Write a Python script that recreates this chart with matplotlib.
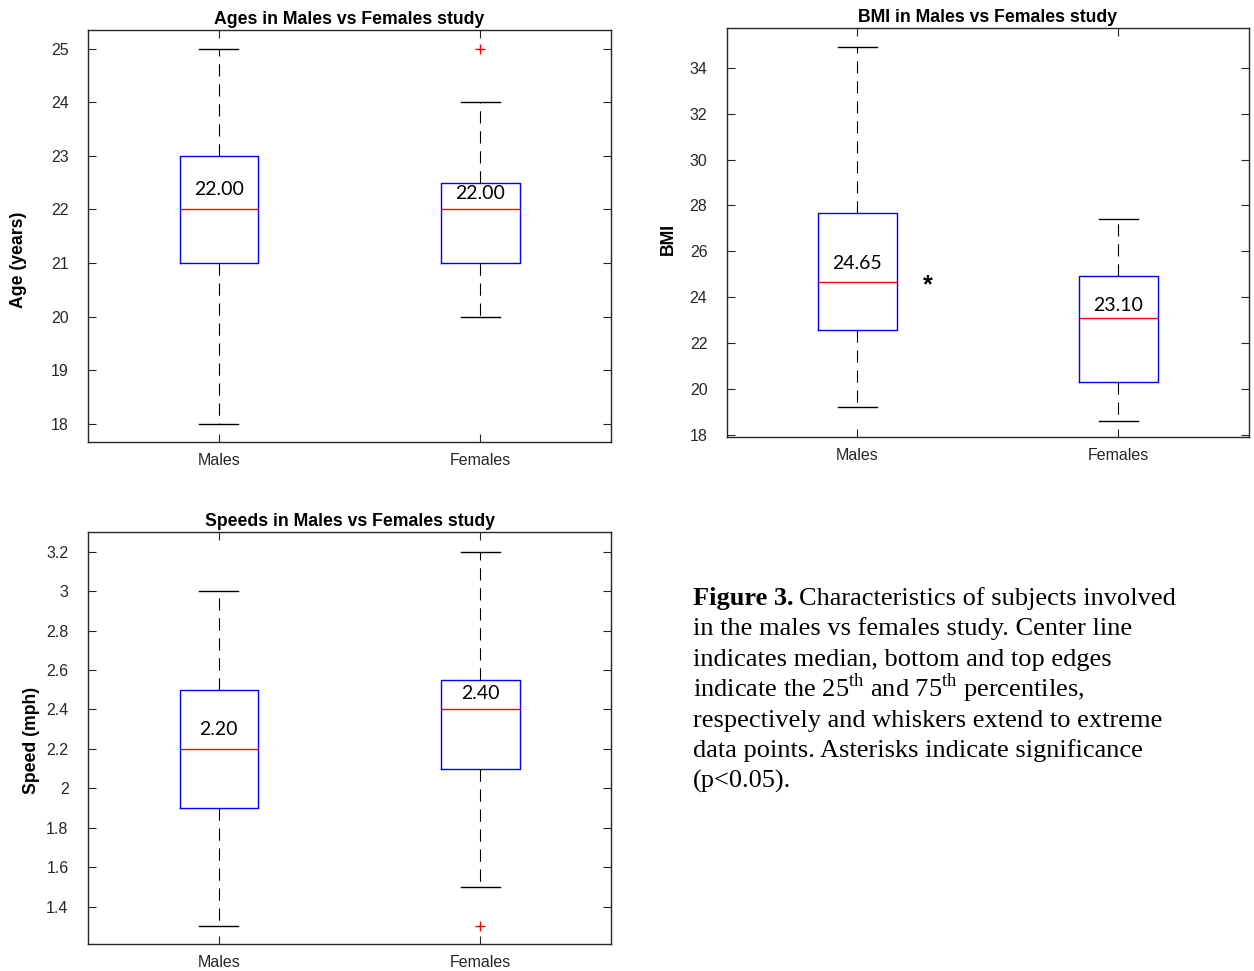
import matplotlib.pyplot as plt

plt.rcParams['font.family'] = 'Liberation Sans'
plt.rcParams['mathtext.fontset'] = 'custom'
plt.rcParams['mathtext.rm'] = 'Liberation Serif'
plt.rcParams['mathtext.bf'] = 'Liberation Serif:bold'

groups = ['Males', 'Females']

# age (years)
age_med = [22.0, 22.0]
age_q1 = [21.0, 21.0]
age_q3 = [23.0, 22.5]
age_lo = [18.0, 20.0]
age_hi = [25.0, 24.0]
age_out = [[], [25.0]]

# bmi
bmi_med = [24.65, 23.10]
bmi_q1 = [22.55, 20.3]
bmi_q3 = [27.65, 24.9]
bmi_lo = [19.2, 18.6]
bmi_hi = [34.9, 27.4]
bmi_out = [[], []]

# speed (mph)
spd_med = [2.20, 2.40]
spd_q1 = [1.9, 2.1]
spd_q3 = [2.5, 2.55]
spd_lo = [1.3, 1.5]
spd_hi = [3.0, 3.2]
spd_out = [[], [1.3]]

edge = '#262626'


def make_stats(med, q1, q3, lo, hi, out):
    st = []
    for i in range(len(med)):
        st.append({'med': med[i], 'q1': q1[i], 'q3': q3[i],
                   'whislo': lo[i], 'whishi': hi[i], 'fliers': out[i]})
    return st


def draw_box(ax, stats, title, ylabel, ylim, yticks, lab_off, lab_xy):
    ax.bxp(stats, positions=[1, 2], widths=0.3, showfliers=True,
           boxprops=dict(color='blue', lw=1),
           medianprops=dict(color='red', lw=1),
           whiskerprops=dict(color='black', lw=0.8, linestyle=(0, (11, 7))),
           capprops=dict(color='black', lw=1),
           capwidths=0.15,
           flierprops=dict(marker='+', markeredgecolor='red', markersize=7,
                           linestyle='none'))
    for i, s in enumerate(stats):
        ax.text(i + 1, s['med'] + lab_off[i], '{:.2f}'.format(s['med']),
                ha='center', va='center', family='Lato', fontsize=14)
    ax.set_xlim(0.5, 2.5)
    ax.set_ylim(*ylim)
    ax.set_yticks(yticks)
    ax.set_yticklabels(['{:g}'.format(v) for v in yticks])
    ax.set_xticks([1, 2])
    ax.set_xticklabels(groups)
    ax.set_title(title, fontsize=12.7, fontweight='bold', pad=4)
    ax.set_ylabel(ylabel, fontsize=12.7, fontweight='bold')
    ax.yaxis.set_label_coords(*lab_xy)
    ax.tick_params(direction='in', top=True, right=True, length=6,
                   labelsize=11.5, colors=edge)
    ax.tick_params(axis='x', pad=8)
    ax.tick_params(axis='y', pad=14)
    for sp in ax.spines.values():
        sp.set_color(edge)
        sp.set_linewidth(1)


fig = plt.figure(figsize=(12.54, 9.71), dpi=100)
ax1 = fig.add_axes([0.0702, 0.5448, 0.4171, 0.4243])
ax2 = fig.add_axes([0.5797, 0.5500, 0.4163, 0.4212])
ax3 = fig.add_axes([0.0702, 0.0278, 0.4171, 0.4243])

draw_box(ax1, make_stats(age_med, age_q1, age_q3, age_lo, age_hi, age_out),
         'Ages in Males vs Females study', 'Age (years)', (17.66, 25.35),
         [18, 19, 20, 21, 22, 23, 24, 25], [0.38, 0.30], (-0.117, 0.442))
draw_box(ax2, make_stats(bmi_med, bmi_q1, bmi_q3, bmi_lo, bmi_hi, bmi_out),
         'BMI in Males vs Females study', 'BMI', (17.9, 35.74),
         [18, 20, 22, 24, 26, 28, 30, 32, 34], [0.8, 0.52], (-0.096, 0.485))
ax2.text(1.27, 24.5, '*', fontsize=18, fontweight='bold', ha='center', va='center')
draw_box(ax3, make_stats(spd_med, spd_q1, spd_q3, spd_lo, spd_hi, spd_out),
         'Speeds in Males vs Females study', 'Speed (mph)', (1.21, 3.30),
         [1.4, 1.6, 1.8, 2.0, 2.2, 2.4, 2.6, 2.8, 3.0, 3.2], [0.1, 0.08],
         (-0.092, 0.493))

caption = [
    'Characteristics of subjects involved',
    'in the males vs females study. Center line',
    'indicates median, bottom and top edges',
    r'indicate the 25$^{\mathrm{th}}$ and 75$^{\mathrm{th}}$ percentiles,',
    'respectively and whiskers extend to extreme',
    'data points. Asterisks indicate significance',
    '(p<0.05).',
]
W, H = 1254, 971
x0 = 693
y0 = 605
t1 = fig.text(x0 / W, 1 - y0 / H, 'Figure 3.', family='Liberation Serif',
              fontweight='bold', fontsize=19, ha='left', va='baseline')
renderer = fig.canvas.get_renderer()
bx = t1.get_window_extent(renderer).x1
for k, line in enumerate(caption):
    yb = y0 + k * 30.5
    xs = (bx + 5) / W if k == 0 else x0 / W
    fig.text(xs, 1 - yb / H, line, family='Liberation Serif',
             fontsize=19, ha='left', va='baseline')

plt.savefig('out.png')
